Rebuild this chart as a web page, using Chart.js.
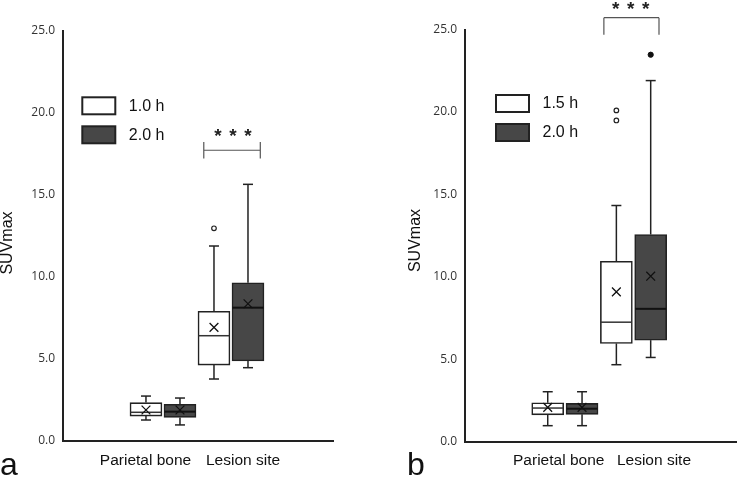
<!DOCTYPE html>
<html><head><meta charset="utf-8">
<script src="https://cdn.jsdelivr.net/npm/chart.js@4.4.1/dist/chart.umd.min.js"></script>
<style>
html,body{margin:0;padding:0;background:#fff;}
#wrap{position:relative;width:744px;height:477px;overflow:hidden;background:#fff;}
.panel{position:absolute;top:0;height:477px;width:372px;}
</style></head><body>
<div id="wrap">
<div class="panel" style="left:0"><canvas id="ca" width="372" height="477"></canvas></div>
<div class="panel" style="left:372px"><canvas id="cb" width="372" height="477"></canvas></div>
</div>
<script>
// ---------- data ----------
const categories = ['Parietal bone', 'Lesion site'];
const yTicks = [0, 5, 10, 15, 20, 25];
const yTitle = 'SUVmax';
const sigText = '***';

// panel a
const seriesA = ['1.0 h', '2.0 h'];
const a1Min  = [1.28, 3.78];
const a1Q1   = [1.52, 4.63];
const a1Med  = [1.75, 6.42];
const a1Q3   = [2.34, 7.91];
const a1Max  = [2.74, 11.89];
const a1Mean = [1.89, 6.93];
const a1Out  = [[], [12.97]];
const a1Far  = [[], []];

const a2Min  = [0.98, 4.47];
const a2Q1   = [1.44, 4.88];
const a2Med  = [1.79, 8.13];
const a2Q3   = [2.24, 9.65];
const a2Max  = [2.62, 15.65];
const a2Mean = [1.89, 8.37];
const a2Out  = [[], []];
const a2Far  = [[], []];

// panel b
const seriesB = ['1.5 h', '2.0 h'];
const b1Min  = [0.96, 4.66];
const b1Q1   = [1.62, 5.95];
const b1Med  = [2.03, 7.24];
const b1Q3   = [2.35, 10.94];
const b1Max  = [3.02, 14.32];
const b1Mean = [2.07, 9.08];
const b1Out  = [[], [20.09, 19.48]];
const b1Far  = [[], []];

const b2Min  = [0.96, 5.10];
const b2Q1   = [1.65, 6.15];
const b2Med  = [1.99, 8.05];
const b2Q3   = [2.31, 12.56];
const b2Max  = [3.02, 21.90];
const b2Mean = [2.07, 10.03];
const b2Out  = [[], []];
const b2Far  = [[], [23.47]];

// ---------- styling ----------
const FONT = "'Liberation Sans', Arial, sans-serif";
const fills = ['#ffffff', '#474747'];
const medColors = ['#333333', '#111111'];
const medWidths = [1.5, 2];
const offsets = [-0.25, 0.25];

function stats(min, q1, med, q3, max, mean, out, far) {
  return {min, q1, med, q3, max, mean, out, far};
}

const boxPlugin = {
  id: 'boxExtras',
  beforeDatasetsDraw(chart) {
    const xs = chart.scales.x, ys = chart.scales.y, ctx = chart.ctx;
    ctx.save();
    ctx.strokeStyle = '#222';
    ctx.lineWidth = 1.5;
    chart.data.datasets.forEach((ds) => {
      if (!ds.stats) return;
      const st = ds.stats;
      st.min.forEach((_, i) => {
        const x = xs.getPixelForValue(i + ds.off);
        const seg = (a, b) => {
          ctx.beginPath();
          ctx.moveTo(x, ys.getPixelForValue(a));
          ctx.lineTo(x, ys.getPixelForValue(b));
          ctx.stroke();
          ctx.beginPath();
          ctx.moveTo(x - 5, ys.getPixelForValue(b));
          ctx.lineTo(x + 5, ys.getPixelForValue(b));
          ctx.stroke();
        };
        seg(st.q3[i], st.max[i]);
        seg(st.q1[i], st.min[i]);
      });
    });
    ctx.restore();
  },
  afterDatasetDraw(chart, args) {
    const ds = chart.data.datasets[args.index];
    if (!ds.stats) return;
    const xs = chart.scales.x, ys = chart.scales.y, ctx = chart.ctx;
    ctx.save();
    ctx.strokeStyle = ds.medColor;
    ctx.lineWidth = ds.medWidth;
    ds.stats.med.forEach((m, i) => {
      const x = xs.getPixelForValue(i + ds.off);
      const y = ys.getPixelForValue(m);
      ctx.beginPath();
      ctx.moveTo(x - 15.5, y);
      ctx.lineTo(x + 15.5, y);
      ctx.stroke();
    });
    ctx.restore();
  },
  afterDraw(chart, args, o) {
    const xs = chart.scales.x, ys = chart.scales.y, ctx = chart.ctx;
    const area = chart.chartArea;
    ctx.save();
    // legend
    const boxes = chart.data.datasets.filter(d => d.stats);
    boxes.forEach((d, k) => {
      const lx = area.left + o.legend.dx;
      const ly = area.top + o.legend.dy + k * 29;
      ctx.fillStyle = d.backgroundColor;
      ctx.fillRect(lx, ly, 33, 17);
      ctx.strokeStyle = '#222';
      ctx.lineWidth = 2;
      ctx.strokeRect(lx, ly, 33, 17);
      ctx.fillStyle = '#111';
      ctx.font = '16px ' + FONT;
      ctx.textAlign = 'left';
      ctx.textBaseline = 'middle';
      ctx.fillText(d.label, lx + 46.5, ly + 9);
    });
    // significance bracket
    const s = o.sig;
    const x1 = xs.getPixelForValue(s.x1), x2 = xs.getPixelForValue(s.x2);
    const yb = ys.getPixelForValue(s.y);
    ctx.strokeStyle = '#555';
    ctx.lineWidth = 1.2;
    ctx.beginPath();
    ctx.moveTo(x1, yb); ctx.lineTo(x2, yb);
    if (s.style === 'H') {
      ctx.moveTo(x1, yb - 8.3); ctx.lineTo(x1, yb + 8.3);
      ctx.moveTo(x2, yb - 8.3); ctx.lineTo(x2, yb + 8.3);
    } else {
      ctx.moveTo(x1, yb); ctx.lineTo(x1, yb + s.leg);
      ctx.moveTo(x2, yb); ctx.lineTo(x2, yb + s.leg);
    }
    ctx.stroke();
    ctx.fillStyle = '#222';
    ctx.font = 'bold 19px ' + FONT;
    ctx.textAlign = 'center';
    ctx.textBaseline = 'alphabetic';
    const m = ctx.measureText('*');
    const cy = yb - s.starUp;
    const base = cy - (m.actualBoundingBoxDescent - m.actualBoundingBoxAscent) / 2;
    const cx = xs.getPixelForValue(s.xs);
    sigText.split('').forEach((c, k) => ctx.fillText(c, cx + (k - 1) * 15, base));
    // y title
    ctx.save();
    ctx.translate(o.title.x, o.title.y);
    ctx.rotate(-Math.PI / 2);
    ctx.fillStyle = '#111';
    ctx.font = '16px ' + FONT;
    ctx.textAlign = 'center';
    ctx.textBaseline = 'middle';
    ctx.fillText(yTitle, 0, 0);
    ctx.restore();
    // panel letter
    ctx.fillStyle = '#111';
    ctx.font = '32px ' + FONT;
    ctx.textAlign = 'left';
    ctx.textBaseline = 'alphabetic';
    ctx.fillText(o.letter.text, o.letter.x, 475);
    ctx.restore();
  }
};

function makePanel(id, cfg) {
  const datasets = [];
  cfg.stats.forEach((st, s) => {
    // mean markers
    datasets.push({
      type: 'scatter', label: 'mean ' + cfg.series[s],
      data: st.mean.map((v, i) => ({x: i + offsets[s], y: v})),
      pointStyle: 'crossRot', pointRadius: 6.2, borderColor: '#111', borderWidth: 1.3,
      backgroundColor: 'transparent', order: 0
    });
    // outliers
    datasets.push({
      type: 'scatter', label: 'out ' + cfg.series[s],
      data: st.out.flatMap((arr, i) => arr.map(v => ({x: i + offsets[s], y: v}))),
      pointStyle: 'circle', pointRadius: 2.3, borderColor: '#222', borderWidth: 1.2,
      backgroundColor: '#fff', order: 0
    });
    datasets.push({
      type: 'scatter', label: 'far ' + cfg.series[s],
      data: st.far.flatMap((arr, i) => arr.map(v => ({x: i + offsets[s], y: v}))),
      pointStyle: 'circle', pointRadius: 2.6, borderColor: '#111', borderWidth: 1,
      backgroundColor: '#111', order: 0
    });
  });
  cfg.stats.forEach((st, s) => {
    datasets.push({
      type: 'bar', label: cfg.series[s],
      data: st.q1.map((v, i) => ({x: i + offsets[s], y: [v, st.q3[i]]})),
      backgroundColor: fills[s], borderColor: '#222', borderWidth: 1.6,
      borderSkipped: false, barThickness: 32, grouped: false, order: 1,
      stats: st, off: offsets[s], medColor: medColors[s], medWidth: medWidths[s]
    });
  });

  return new Chart(document.getElementById(id), {
    type: 'bar',
    data: {datasets},
    options: {
      responsive: false, animation: false,
      layout: {padding: {top: cfg.padTop, right: cfg.padRight, left: 0, bottom: 0}},
      plugins: {
        legend: {display: false}, tooltip: {enabled: false},
        boxExtras: cfg.extras
      },
      scales: {
        x: {
          type: 'linear', min: cfg.xMin, max: 2.5, offset: false,
          grid: {display: false, drawTicks: false},
          border: {display: true, color: '#222', width: 2},
          afterFit(sc) { sc.height = cfg.xHeight; },
          afterBuildTicks(sc) { sc.ticks = cfg.labelPos.map(v => ({value: v})); },
          ticks: {
            autoSkip: false, maxRotation: 0, padding: 10, color: '#111',
            font: {family: FONT, size: 15.5},
            callback: (v, i) => categories[i]
          }
        },
        y: {
          type: 'linear', min: 0, max: 25,
          grid: {display: false, drawTicks: false},
          border: {display: true, color: '#222', width: 2},
          afterFit(sc) { sc.width = cfg.yWidth; },
          afterBuildTicks(sc) { sc.ticks = yTicks.map(v => ({value: v})); },
          ticks: {
            padding: 8, color: '#333',
            font: {family: "'Open Sans', sans-serif", size: 12},
            callback: v => Number(v).toFixed(1)
          }
        }
      }
    },
    plugins: [boxPlugin]
  });
}

makePanel('ca', {
  series: seriesA,
  stats: [
    stats(a1Min, a1Q1, a1Med, a1Q3, a1Max, a1Mean, a1Out, a1Far),
    stats(a2Min, a2Q1, a2Med, a2Q3, a2Max, a2Mean, a2Out, a2Far)
  ],
  padTop: 31, padRight: 39, xHeight: 36, yWidth: 63, xMin: -1.47,
  labelPos: [-0.257, 1.177],
  extras: {
    legend: {dx: 19.3, dy: 66.3},
    sig: {x1: 0.6, x2: 1.431, xs: 1.03, y: 17.73, style: 'H', starUp: 17.6},
    title: {x: 8, y: 243},
    letter: {text: 'a', x: 0}
  }
});

makePanel('cb', {
  series: seriesB,
  stats: [
    stats(b1Min, b1Q1, b1Med, b1Q3, b1Max, b1Mean, b1Out, b1Far),
    stats(b2Min, b2Q1, b2Med, b2Q3, b2Max, b2Mean, b2Out, b2Far)
  ],
  padTop: 29.5, padRight: 0, xHeight: 35.5, yWidth: 93, xMin: -1.455,
  labelPos: [-0.09, 1.298],
  extras: {
    legend: {dx: 31, dy: 65.5},
    sig: {x1: 0.568, x2: 1.371, xs: 0.959, y: 25.72, style: 'U', leg: 17, starUp: 12.3},
    title: {x: 43.5, y: 240.5},
    letter: {text: 'b', x: 35}
  }
});
</script>
</body></html>
